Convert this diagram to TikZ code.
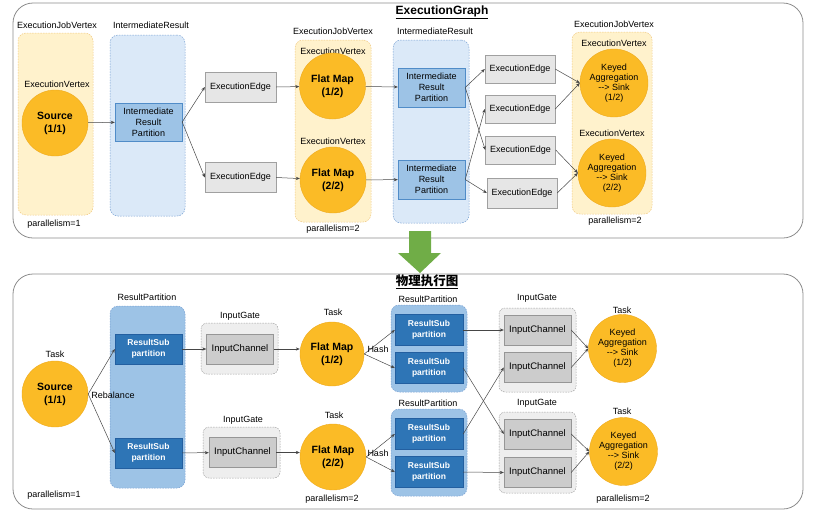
\documentclass[tikz,border=0pt]{standalone}
\usepackage{fontspec}
\setmainfont{Liberation Sans}
\newfontfamily\cjk{Noto Sans CJK SC}
\usetikzlibrary{arrows.meta,positioning}
\definecolor{vtxfill}{RGB}{251,187,38}
\definecolor{vtxdraw}{RGB}{238,170,30}
\definecolor{jobfill}{RGB}{255,242,204}
\definecolor{jobdraw}{RGB}{240,200,130}
\definecolor{resfill}{RGB}{219,233,248}
\definecolor{resdraw}{RGB}{120,160,210}
\definecolor{irpfill}{RGB}{157,195,230}
\definecolor{irpdraw}{RGB}{80,140,200}
\definecolor{edgefill}{RGB}{230,230,230}
\definecolor{edgedraw}{RGB}{160,160,160}
\definecolor{rspfill}{RGB}{46,117,182}
\definecolor{rspdraw}{RGB}{35,95,160}
\definecolor{igfill}{RGB}{238,238,238}
\definecolor{chanfill}{RGB}{204,204,204}
\definecolor{chandraw}{RGB}{150,150,150}
\definecolor{panelgray}{RGB}{140,140,140}
\definecolor{linkgray}{RGB}{70,70,70}
\definecolor{arrowgreen}{RGB}{112,173,71}

\begin{document}
\begin{tikzpicture}[x=1pt,y=-1pt,>={Stealth[length=4pt,width=3.2pt]},
  font=\fontsize{9}{10}\selectfont,
  panel/.style={draw=panelgray,line width=0.8pt,rounded corners=20pt},
  dashbox/.style={dash pattern=on 1.5pt off 1.2pt,line width=0.5pt,rounded corners=8pt},
  jobbox/.style={dashbox,draw=jobdraw,fill=jobfill},
  resbox/.style={dashbox,draw=resdraw,fill=resfill},
  rpbox/.style={dashbox,draw=resdraw,fill=irpfill},
  igbox/.style={dashbox,draw=edgedraw,fill=igfill,rounded corners=6pt},
  vtx/.style={circle,fill=vtxfill,draw=vtxdraw,inner sep=0pt,align=center,minimum size=66pt,font=\fontsize{10.5}{13}\selectfont\bfseries},
  sink/.style={vtx,minimum size=68pt,font=\fontsize{9}{10}\selectfont},
  irp/.style={draw=irpdraw,fill=irpfill,align=center,minimum width=67pt,minimum height=38pt,inner sep=0pt,font=\fontsize{9}{11}\selectfont},
  edgebox/.style={draw=edgedraw,fill=edgefill,minimum width=71pt,minimum height=30pt,inner sep=0pt},
  rsp/.style={draw=rspdraw,fill=rspfill,text=white,align=center,minimum width=68pt,minimum height=31pt,inner sep=0pt,font=\fontsize{8.5}{11.5}\selectfont\bfseries},
  chan/.style={draw=chandraw,fill=chanfill,minimum width=67pt,minimum height=30pt,inner sep=0pt,font=\fontsize{9.5}{11}\selectfont},
  lbl/.style={inner sep=0pt},
  link/.style={->,draw=linkgray,line width=0.5pt}]
\useasboundingbox (0,0) rectangle (835,517);

% ExecutionGraph
\draw[panel] (13,3) rectangle (803,238);
\node[lbl,font=\fontsize{12}{14}\selectfont\bfseries] (title1) at (442,12) {\underline{ExecutionGraph}};

\node[jobbox,minimum width=75pt,minimum height=182pt] (jbox1) at (55.5,124) {};
\node[lbl] (jv1) at (57,25) {ExecutionJobVertex};
\node[lbl] (ev1) at (57,84) {ExecutionVertex};
\node[vtx] (src) at (55,123) {Source\\(1/1)};
\node[lbl] (par1) at (54,224) {parallelism=1};

\node[resbox,minimum width=75pt,minimum height=181pt] (rbox1) at (147.5,125.5) {};
\node[lbl] (ir1) at (151,25) {IntermediateResult};
\node[irp] (irp0) at (148.5,122) {Intermediate\\Result\\Partition};

\node[edgebox] (ee1) at (240.5,87) {ExecutionEdge};
\node[edgebox] (ee2) at (240.5,177.5) {ExecutionEdge};

\node[jobbox,minimum width=76pt,minimum height=182pt] (jbox2) at (333,131) {};
\node[lbl] (jv2) at (333,31) {ExecutionJobVertex};
\node[lbl] (ev2) at (333,51) {ExecutionVertex};
\node[vtx] (fm1) at (332.5,86) {Flat Map\\(1/2)};
\node[lbl] (ev3) at (333,141) {ExecutionVertex};
\node[vtx] (fm2) at (333,180) {Flat Map\\(2/2)};
\node[lbl] (par2) at (333,229) {parallelism=2};

\node[resbox,minimum width=76pt,minimum height=183pt] (rbox2) at (431,131.5) {};
\node[lbl] (ir2) at (435,31) {IntermediateResult};
\node[irp,minimum height=39pt] (irp1) at (431.5,87.5) {Intermediate\\Result\\Partition};
\node[irp,minimum height=39pt] (irp2) at (431.5,179.5) {Intermediate\\Result\\Partition};

\node[edgebox,minimum width=70pt,minimum height=28pt] (eea) at (520,69) {ExecutionEdge};
\node[edgebox,minimum width=70pt,minimum height=28pt] (eeb) at (520,109) {ExecutionEdge};
\node[edgebox,minimum width=70pt,minimum height=28pt] (eec) at (520.5,150) {ExecutionEdge};
\node[edgebox,minimum width=70pt] (eed) at (522,193) {ExecutionEdge};

\node[jobbox,minimum width=80pt,minimum height=182pt] (jbox3) at (612,123) {};
\node[lbl] (jv3) at (614,24) {ExecutionJobVertex};
\node[lbl] (ev4) at (614,43) {ExecutionVertex};
\node[sink] (ka1) at (614,83) {Keyed\\Aggregation\\-{}-> Sink\\(1/2)};
\node[lbl] (ev5) at (612,133) {ExecutionVertex};
\node[sink] (ka2) at (612,173) {Keyed\\Aggregation\\-{}-> Sink\\(2/2)};
\node[lbl] (par3) at (615,221) {parallelism=2};

\draw[link] (src) -- (irp0);
\draw[link] (irp0.east) -- (ee1.west);
\draw[link] (irp0.east) -- (ee2.west);
\draw[link] (ee1.east) -- (fm1);
\draw[link] (ee2.east) -- (fm2);
\draw[link] (fm1) -- (irp1);
\draw[link] (fm2) -- (irp2);
\draw[link] (irp1.east) -- (eea.west);
\draw[link] (irp1.east) -- (eec.west);
\draw[link] (irp2.east) -- (eeb.west);
\draw[link] (irp2.east) -- (eed.west);
\draw[link] (eea.east) -- (ka1.west);
\draw[link] (eeb.east) -- (ka1.west);
\draw[link] (eec.east) -- (ka2.west);
\draw[link] (eed.east) -- (ka2.west);

% physical graph
\draw[panel] (13,274) rectangle (803,509);
\fill[arrowgreen] (409,231) -- (431,231) -- (431,253) -- (441,253) -- (420,273) -- (398,253) -- (409,253) -- cycle;
\node[lbl,font=\fontsize{12.5}{14}\selectfont\cjk\bfseries] (title2) at (427,282) {\underline{物理执行图}};

\node[lbl] (task0) at (55,354) {Task};
\node[vtx] (src2) at (55,394) {Source\\(1/1)};
\node[lbl] (par4) at (54,495) {parallelism=1};

\node[rpbox,minimum width=75pt,minimum height=182pt] (rpbox0) at (147.5,397) {};
\node[lbl] (rp0) at (147,297) {ResultPartition};
\node[rsp,minimum width=67pt,minimum height=30pt] (rs1) at (148.5,349) {ResultSub\\partition};
\node[rsp,minimum width=67pt,minimum height=30pt] (rs2) at (148.5,453) {ResultSub\\partition};
\node[lbl] (rebal) at (113,395) {Rebalance};

\node[igbox,minimum width=77pt,minimum height=51pt] (igbox1) at (239.5,348.5) {};
\node[lbl] (ig1) at (240,316) {InputGate};
\node[chan] (ic1) at (240,349) {InputChannel};
\node[igbox,minimum width=77pt,minimum height=51pt] (igbox2) at (241.5,452.5) {};
\node[lbl] (ig2) at (243,420) {InputGate};
\node[chan] (ic2) at (242.5,452.5) {InputChannel};

\node[lbl] (task1) at (333,312) {Task};
\node[vtx,minimum size=64pt] (fm3) at (332,354) {Flat Map\\(1/2)};
\node[lbl] (task2) at (334,415) {Task};
\node[vtx] (fm4) at (333,457) {Flat Map\\(2/2)};
\node[lbl] (par5) at (332,499) {parallelism=2};

\node[rpbox,minimum width=76pt,minimum height=87pt] (rpbox1) at (429,348.5) {};
\node[lbl] (rp1) at (428,299) {ResultPartition};
\node[rsp] (rsa) at (429,330) {ResultSub\\partition};
\node[rsp] (rsb) at (429,368) {ResultSub\\partition};
\node[rpbox,minimum width=76pt,minimum height=87pt] (rpbox2) at (429,452.5) {};
\node[lbl] (rp2) at (428,403) {ResultPartition};
\node[rsp] (rsc) at (429,434) {ResultSub\\partition};
\node[rsp] (rsd) at (429,472) {ResultSub\\partition};

\node[igbox,minimum width=77pt,minimum height=84pt] (igboxa) at (537.5,350) {};
\node[lbl] (iga) at (537,298) {InputGate};
\node[chan] (ica) at (537.5,330) {InputChannel};
\node[chan] (icb) at (537.5,367.5) {InputChannel};
\node[igbox,minimum width=77pt,minimum height=81pt] (igboxb) at (537.5,452.5) {};
\node[lbl] (igb) at (537,403) {InputGate};
\node[chan] (icc) at (537.5,434) {InputChannel};
\node[chan] (icd) at (537.5,472.5) {InputChannel};

\node[lbl] (task3) at (622,310) {Task};
\node[sink] (ka3) at (622.5,348.5) {Keyed\\Aggregation\\-{}-> Sink\\(1/2)};
\node[lbl] (task4) at (622,411) {Task};
\node[sink] (ka4) at (623.5,451.5) {Keyed\\Aggregation\\-{}-> Sink\\(2/2)};
\node[lbl] (par6) at (623,499) {parallelism=2};

\draw[link] (src2.east) -- (rs1.west);
\draw[link] (src2.east) -- (rs2.west);
\draw[link] (rs1) -- (ic1);
\draw[link] (rs2) -- (ic2);
\draw[link] (ic1.east) -- (ic1.east -| fm3.west);
\draw[link] (ic2.east) -- (ic2.east -| fm4.west);
\draw[link] (fm3.east) -- (rsa.west);
\draw[link] (fm3.east) -- (rsb.west);
\draw[link] (fm4.east) -- (rsc.west);
\draw[link] (fm4.east) -- (rsd.west);
\node[lbl] (hash1) at (378,349) {Hash};
\node[lbl] (hash2) at (378,453) {Hash};
\draw[link] (rsa.east) -- (ica.west);
\draw[link] (rsb.east) -- (icc.west);
\draw[link] (rsc.east) -- (icb.west);
\draw[link] (rsd.east) -- (icd.west);
\draw[link] (ica.east) -- (ka3.west);
\draw[link] (icb.east) -- (ka3.west);
\draw[link] (icc.east) -- (ka4.west);
\draw[link] (icd.east) -- (ka4.west);
\end{tikzpicture}
\end{document}
